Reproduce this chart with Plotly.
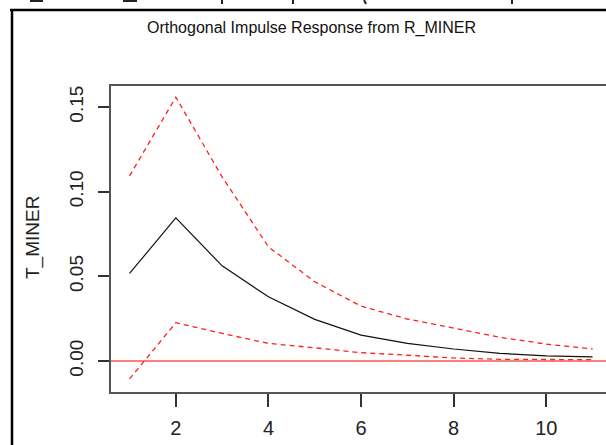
import plotly.graph_objects as go

periods = [1, 2, 3, 4, 5, 6, 7, 8, 9, 10, 11]
irf = [0.0517, 0.0845, 0.0562, 0.0379, 0.0246, 0.0153, 0.0104, 0.0071, 0.0045, 0.0030, 0.0024]
upper = [0.1093, 0.1558, 0.1087, 0.0674, 0.0468, 0.0324, 0.0248, 0.0193, 0.0140, 0.0100, 0.0071]
lower = [-0.0106, 0.0226, 0.0163, 0.0104, 0.0078, 0.0049, 0.0034, 0.0018, 0.0010, 0.0008, 0.0008]
x_ticks = [2, 4, 6, 8, 10]
y_ticks = [0.00, 0.05, 0.10, 0.15]
y_tick_text = ["0.00", "0.05", "0.10", "0.15"]

FONT = "Liberation Sans, Arial, sans-serif"

fig = go.Figure()
fig.add_trace(go.Scatter(x=[0.0, 12.0], y=[0, 0], mode="lines",
                         line=dict(color="#ff0000", width=1.2), hoverinfo="skip"))
fig.add_trace(go.Scatter(x=periods, y=upper, mode="lines",
                         line=dict(color="#ff2020", width=1.3, dash="5px,4px")))
fig.add_trace(go.Scatter(x=periods, y=lower, mode="lines",
                         line=dict(color="#ff2020", width=1.3, dash="5px,4px")))
fig.add_trace(go.Scatter(x=periods, y=irf, mode="lines",
                         line=dict(color="#111111", width=1.2)))

L, T, B = 111, 86, 53
W, H = 606, 445
pw = W - L
ph = H - T - B

def px(xp):
    return (xp - L) / pw

def py(yp):
    return (H - B - yp) / ph

fig.update_layout(
    width=W, height=H,
    margin=dict(l=L, r=0, t=T, b=B),
    paper_bgcolor="white", plot_bgcolor="white",
    showlegend=False,
    font=dict(family=FONT, color="#222222"),
    xaxis=dict(range=[0.6, 11.29], tickvals=x_ticks, ticktext=[str(v) for v in x_ticks],
               showgrid=False, zeroline=False, showline=True, mirror=True,
               linecolor="#555555", linewidth=1.5,
               ticks="outside", ticklen=13, tickwidth=1.5, tickcolor="#333333",
               ticklabelstandoff=4,
               tickfont=dict(size=20, family=FONT, color="#222222")),
    yaxis=dict(range=[-0.0183, 0.1624], tickvals=y_ticks, ticktext=y_tick_text,
               showgrid=False, zeroline=False, showline=True, mirror=False,
               linecolor="#555555", linewidth=1.5,
               ticks="outside", ticklen=11, tickwidth=1.5, tickcolor="#333333",
               tickangle=-90, ticklabelstandoff=8,
               tickfont=dict(size=19, family=FONT, color="#222222")),
)

fig.add_annotation(text="Orthogonal Impulse Response from R_MINER",
                   xref="paper", yref="paper", x=px(311), y=py(28),
                   xanchor="center", yanchor="middle", showarrow=False,
                   font=dict(size=16, family=FONT, color="#111111"))
fig.add_annotation(text="T_MINER", xref="paper", yref="paper",
                   x=px(33), y=py(238), textangle=-90,
                   xanchor="center", yanchor="middle", showarrow=False,
                   font=dict(size=19, family=FONT, color="#222222"))

# outer document frame
fig.add_shape(type="line", xref="paper", yref="paper",
              x0=px(10), x1=px(606), y0=py(10), y1=py(10),
              line=dict(color="black", width=2.5))
fig.add_shape(type="line", xref="paper", yref="paper",
              x0=px(12), x1=px(12), y0=py(10), y1=py(445),
              line=dict(color="black", width=2.5))
# cut-off glyph fragments above the frame
for x0, x1 in [(30, 43), (123, 137)]:
    fig.add_shape(type="line", xref="paper", yref="paper",
                  x0=px(x0), x1=px(x1), y0=py(1), y1=py(1),
                  line=dict(color="#222222", width=2))
for xs in [222, 293, 512]:
    fig.add_shape(type="line", xref="paper", yref="paper",
                  x0=px(xs), x1=px(xs), y0=py(0), y1=py(4),
                  line=dict(color="#222222", width=2))
fig.add_shape(type="line", xref="paper", yref="paper",
              x0=px(364), x1=px(366), y0=py(0), y1=py(4),
              line=dict(color="#222222", width=2))

fig.write_html("out.html")
